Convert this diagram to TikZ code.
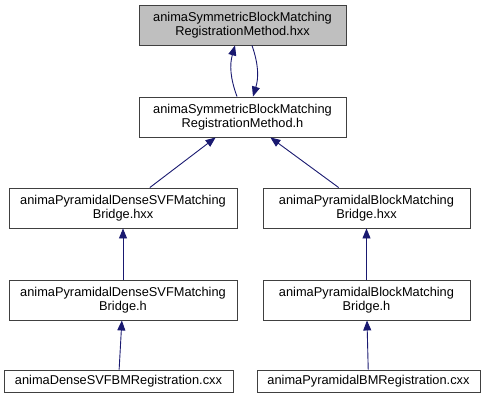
\documentclass[tikz,border=0pt]{standalone}
\usepackage{fontspec}
\setmainfont{Liberation Sans}
\usetikzlibrary{arrows.meta}
\definecolor{edgeblue}{HTML}{191970}
\definecolor{boxgray}{HTML}{BFBFBF}
\begin{document}
\begin{tikzpicture}[x=1pt,y=-1pt,
  box/.style={draw=black!75, line width=0.9pt, fill=white, align=center, inner sep=0pt,
    font=\fontsize{12.8}{14.2}\selectfont, minimum height=40pt},
  onebox/.style={box, minimum height=22pt},
  edge/.style={draw=edgeblue, line width=0.9pt, -{Triangle[length=10pt,width=8pt]}}]
\useasboundingbox (0,0) rectangle (485,400);
\node[box, fill=boxgray, minimum width=207pt] (top) at (242.5,25) {animaSymmetricBlockMatching\\RegistrationMethod.hxx};
\node[box, minimum width=207pt] (mid) at (242.5,117) {animaSymmetricBlockMatching\\RegistrationMethod.h};
\node[box, minimum width=228pt] (l3) at (123,208) {animaPyramidalDenseSVFMatching\\Bridge.hxx};
\node[box, minimum width=207pt] (r3) at (366.5,208) {animaPyramidalBlockMatching\\Bridge.hxx};
\node[box, minimum width=228pt] (l4) at (123,300) {animaPyramidalDenseSVFMatching\\Bridge.h};
\node[box, minimum width=207pt] (r4) at (366.5,300) {animaPyramidalBlockMatching\\Bridge.h};
\node[onebox, minimum width=229pt] (lb) at (118.5,381) {animaDenseSVFBMRegistration.cxx};
\node[onebox, minimum width=223pt] (rb) at (368.5,381) {animaPyramidalBMRegistration.cxx};
\draw[edge] ([xshift=-5.5pt]mid.north) to[bend left=18] ([xshift=-7.5pt]top.south);
\draw[edge] ([xshift=9.5pt]top.south) to[bend left=18] ([xshift=10.5pt]mid.north);
\draw[edge] (l3) -- (mid);
\draw[edge] (r3) -- (mid);
\draw[edge] (l4) -- (l3);
\draw[edge] (r4) -- (r3);
\draw[edge] (lb) -- (l4);
\draw[edge] (rb) -- (r4);
\end{tikzpicture}
\end{document}
